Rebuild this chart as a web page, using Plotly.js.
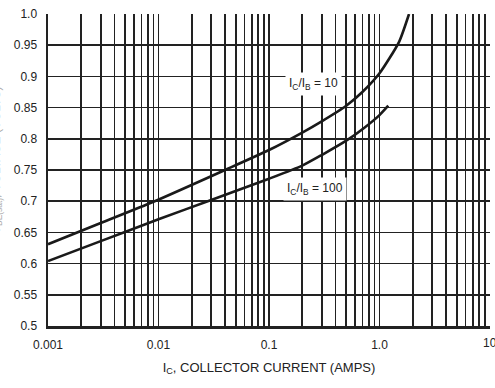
<!DOCTYPE html>
<html>
<head>
<meta charset="utf-8">
<script src="https://cdn.plot.ly/plotly-3.0.1.min.js"></script>
<style>html,body{margin:0;padding:0;background:#fff;overflow:hidden}#chart{width:495px;height:388px}</style>
</head>
<body>
<div id="chart"></div>
<script>
// Collector current (A) and voltage (V)
const icRatio10 = [0.001, 0.003, 0.009, 0.04, 0.1, 0.2, 0.3, 0.5, 0.7, 1.0, 1.5, 1.85];
const vRatio10  = [0.631, 0.665, 0.699, 0.750, 0.782, 0.810, 0.828, 0.853, 0.875, 0.905, 0.955, 1.0];
const icRatio100 = [0.001, 0.003, 0.01, 0.03, 0.1, 0.2, 0.3, 0.5, 0.72, 1.0, 1.2];
const vRatio100  = [0.604, 0.636, 0.671, 0.702, 0.736, 0.757, 0.774, 0.797, 0.817, 0.838, 0.853];
const seriesLabels = ["I<sub>C</sub>/I<sub>B</sub> = 10", "I<sub>C</sub>/I<sub>B</sub> = 100"];
const labelPos = [[0.254, 0.888], [0.26, 0.72]];
const xDecades = [0.001, 0.01, 0.1, 1, 10];
const xDecadeText = ["0.001", "0.01", "0.1", "1.0", "10"];
const yTicks = [0.5, 0.55, 0.6, 0.65, 0.7, 0.75, 0.8, 0.85, 0.9, 0.95, 1.0];
const yTickText = ["0.5", "0.55", "0.6", "0.65", "0.7", "0.75", "0.8", "0.85", "0.9", "0.95", "1.0"];

const xTickVals = [], xTickText = [];
xDecades.forEach((d, i) => {
  const last = i === xDecades.length - 1;
  for (let m = 1; m <= (last ? 1 : 9); m++) {
    xTickVals.push(d * m);
    xTickText.push(m === 1 && !last ? xDecadeText[i] : "");
  }
});

const FONT = "'Liberation Sans Narrow', 'Arial Narrow', 'Liberation Sans', Arial, sans-serif";
const INK = "#222";

const traces = [
  {x: icRatio10, y: vRatio10, mode: "lines", line: {color: "#1a1a1a", width: 2.6, shape: "spline", smoothing: 0.6}, hoverinfo: "skip"},
  {x: icRatio100, y: vRatio100, mode: "lines", line: {color: "#1a1a1a", width: 2.6, shape: "spline", smoothing: 0.6}, hoverinfo: "skip"}
];

const layout = {
  width: 495, height: 388,
  margin: {l: 48, r: 5, t: 14, b: 62},
  paper_bgcolor: "#fff", plot_bgcolor: "#fff",
  showlegend: false,
  font: {family: FONT, size: 12, color: "#222"},
  xaxis: {
    type: "log", range: [-3, 1],
    tickmode: "array", tickvals: xTickVals, ticktext: xTickText,
    showgrid: true, gridcolor: INK, gridwidth: 1.6,
    showline: true, linecolor: INK, linewidth: 2.5,
    ticks: "", ticklabelstandoff: 6,
    tickfont: {family: FONT, size: 12, color: "#222"},
    zeroline: false,
    title: {text: "I<sub>C</sub>, COLLECTOR CURRENT (AMPS)", font: {family: FONT, size: 13, color: "#222"}, standoff: 12}
  },
  yaxis: {
    range: [0.5, 1.0],
    tickmode: "array", tickvals: yTicks, ticktext: yTickText,
    showgrid: true, gridcolor: INK, gridwidth: 1.6,
    showline: true, linecolor: INK, linewidth: 2.5,
    ticks: "", ticklabelstandoff: 6,
    tickfont: {family: FONT, size: 12, color: "#222"},
    zeroline: false
  },
  annotations: [
    {x: Math.log10(labelPos[0][0]), y: labelPos[0][1], xref: "x", yref: "y", text: seriesLabels[0], showarrow: false,
     bgcolor: "#fff", borderpad: 3, font: {family: FONT, size: 12, color: "#222"}},
    {x: Math.log10(labelPos[1][0]), y: labelPos[1][1], xref: "x", yref: "y", text: seriesLabels[1], showarrow: false,
     bgcolor: "#fff", borderpad: 3, font: {family: FONT, size: 12, color: "#222"}},
    {x: Math.log10(xDecades[4]), y: 0, xref: "x", yref: "paper", yanchor: "top", yshift: -8, xanchor: "center",
     text: xDecadeText[4], showarrow: false, font: {family: FONT, size: 12, color: "#222"}},
    {x: -0.117, y: 0.53, xref: "paper", yref: "paper", xanchor: "center", text: "V<sub>BE(sat)</sub>, VOLTAGE (VOLTS)",
     textangle: -90, showarrow: false, font: {family: FONT, size: 12, color: "#aaa"}}
  ]
};

Plotly.newPlot("chart", traces, layout, {displayModeBar: false, staticPlot: true});
</script>
</body>
</html>
